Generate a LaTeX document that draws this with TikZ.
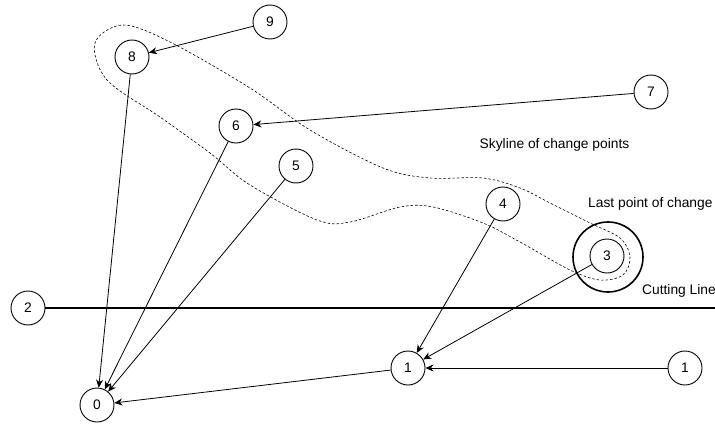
\documentclass[tikz,border=0pt]{standalone}
\usepackage{fontspec}
\setmainfont{Liberation Sans}
\usetikzlibrary{arrows.meta}
\begin{document}
\begin{tikzpicture}[x=1pt,y=-1pt,
  vtx/.style={circle,draw,line width=0.9pt,minimum size=34pt,inner sep=0pt,font=\fontsize{13.8}{16}\selectfont},
  arr/.style={line width=0.8pt,-{Stealth[length=8pt,width=7pt,inset=2.5pt]}},
  lbl/.style={font=\fontsize{13.8}{16}\selectfont,inner sep=0pt}]
\useasboundingbox (0,0) rectangle (715,428);
\node[vtx] (n9) at (270,22) {9};
\node[vtx] (n8) at (132,57) {8};
\node[vtx] (n7) at (651,92) {7};
\node[vtx] (n6) at (236,126) {6};
\node[vtx] (n5) at (296,166) {5};
\node[vtx] (n4) at (503,204) {4};
\node[vtx] (n3) at (607,256) {3};
\node[circle,draw,line width=1.6pt,minimum size=70pt,inner sep=0pt] (ring) at (608,257) {};
\node[vtx] (n2) at (28,308) {2};
\node[vtx] (n1) at (408,368) {1};
\node[vtx] (n1r) at (685,368) {1};
\node[vtx] (n0) at (97,405) {0};
\coordinate (cutend) at (715,308);
\draw[line width=2.2pt] (n2) -- (cutend);
\draw[arr] (n9) -- (n8);
\draw[arr] (n7) -- (n6);
\draw[arr] (n8) -- (n0);
\draw[arr] (n6) -- (n0);
\draw[arr] (n5) -- (n0);
\draw[arr] (n1) -- (n0);
\draw[arr] (n4) -- (n1);
\draw[arr] (n3) -- (n1);
\draw[arr] (n1r) -- (n1);
\draw[dash pattern=on 2.5pt off 2pt,line width=0.6pt]
  plot[smooth cycle,tension=0.55] coordinates {
  (95,43) (123,25) (170,42) (250,88) (310,130) (383,168) (430,178) (483,178)
  (520,188) (550,203) (590,223) (620,238) (630,257) (623,275) (600,280) (570,270)
  (520,242) (483,223) (433,207) (400,207) (350,222) (317,220) (250,185) (210,153)
  (160,117) (107,80)};
\node[lbl] (sky) at (554.5,145) {Skyline of change points};
\node[lbl,anchor=west] (last) at (588,204) {Last point of change};
\node[lbl,anchor=east] (cut) at (716,291) {Cutting Line};
\end{tikzpicture}
\end{document}
